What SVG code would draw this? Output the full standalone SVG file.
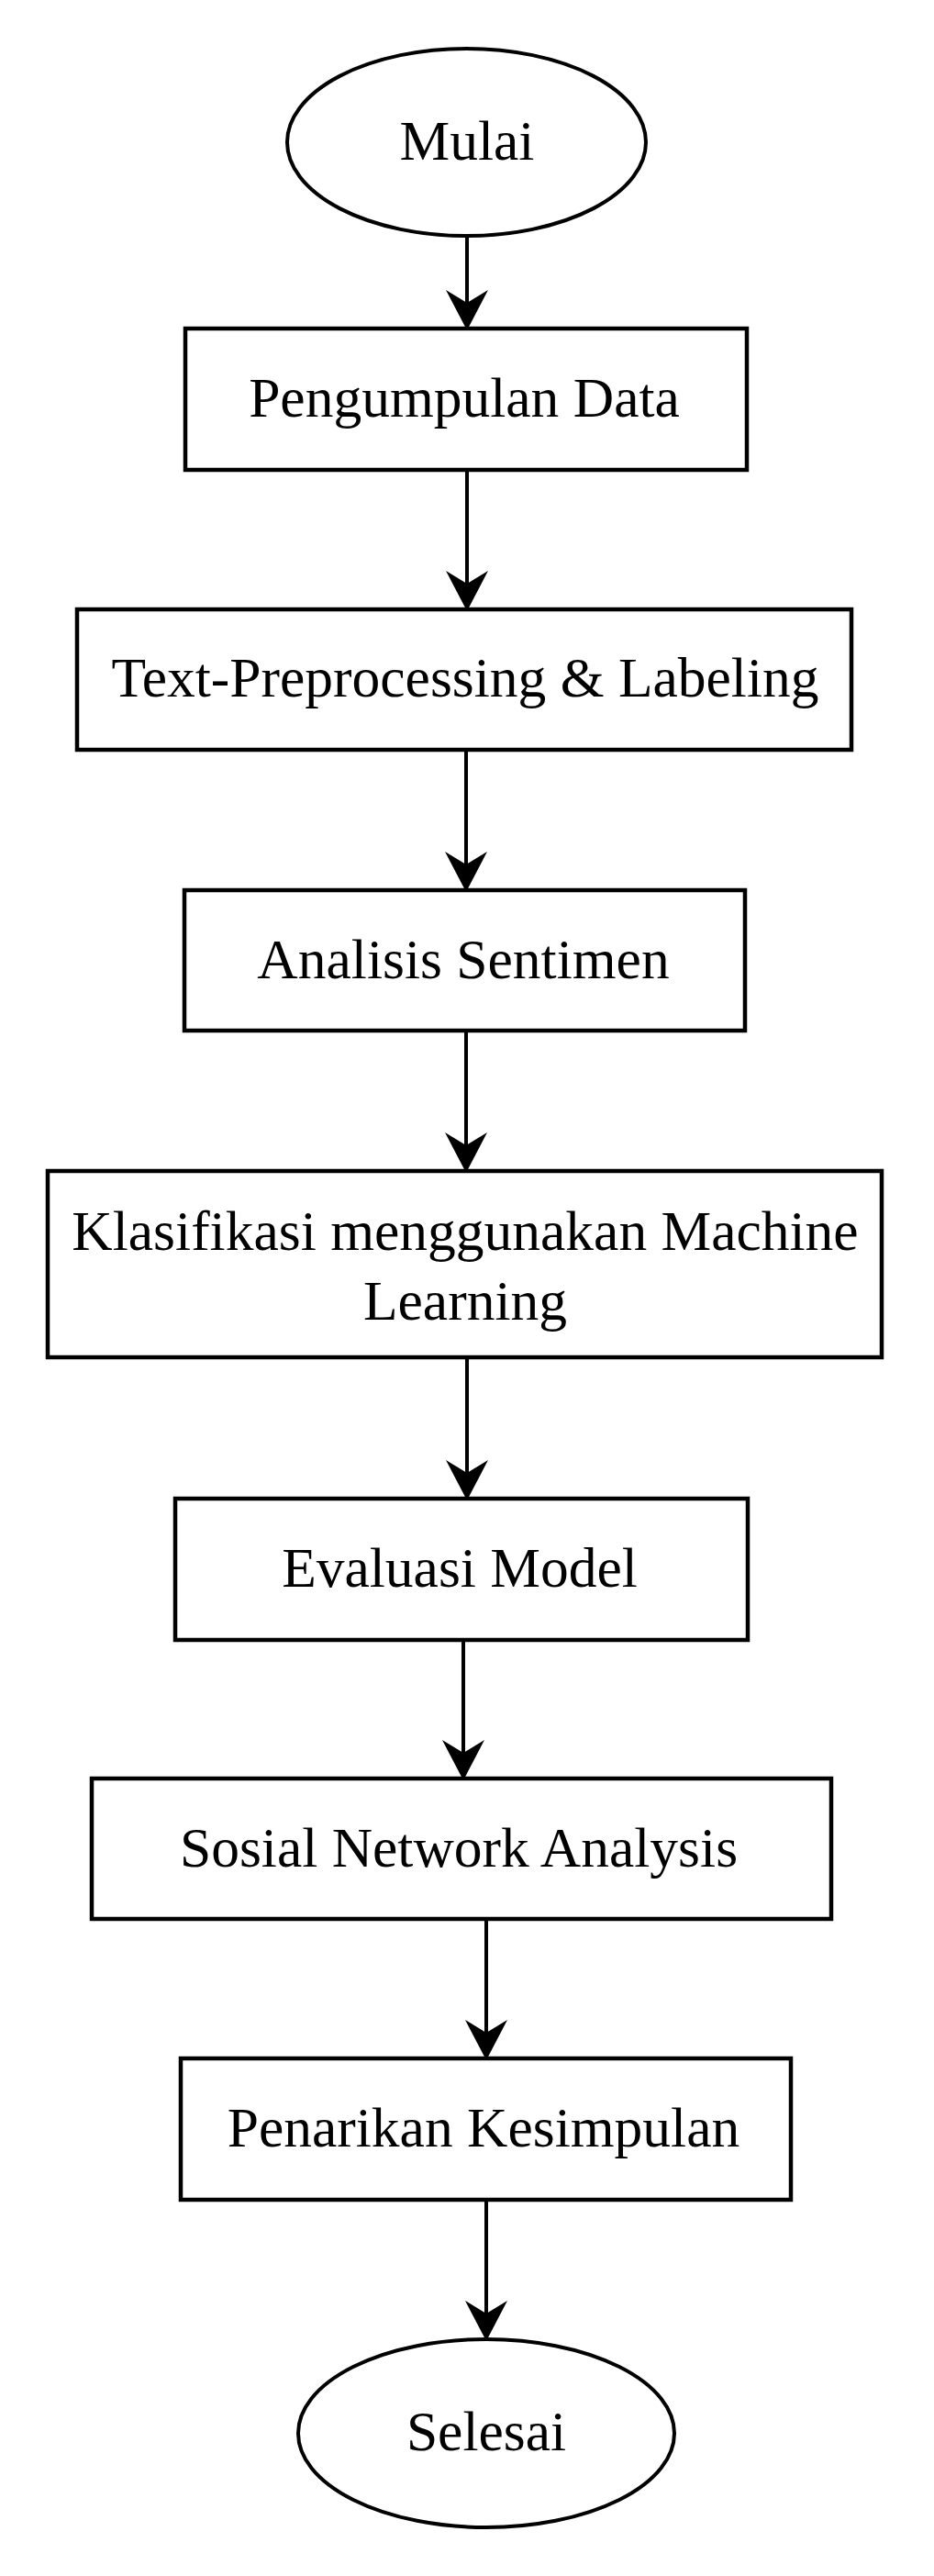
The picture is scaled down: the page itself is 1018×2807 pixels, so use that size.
<svg xmlns="http://www.w3.org/2000/svg" width="1018" height="2807" viewBox="0 0 1018 2807">
  <style>
    .box { fill: #ffffff; stroke: #000000; stroke-width: 4.5; }
    .term { fill: #ffffff; stroke: #000000; stroke-width: 4; }
    .lbl { font-family: "Liberation Serif", "Times New Roman", serif; font-size: 61.5px; fill: #000000; text-anchor: middle; }
    .conn { stroke: #000000; stroke-width: 4; fill: none; marker-end: url(#arrow); }
  </style>
  <defs>
    <marker id="arrow" markerUnits="userSpaceOnUse" viewBox="-16 -25 48 50" markerWidth="48" markerHeight="50" refX="0" refY="0" orient="auto">
      <path d="M30,0 L-14,-23 L0,0 L-14,23 Z" fill="#000000"/>
    </marker>
  </defs>
  <rect x="0" y="0" width="1018" height="2807" fill="#ffffff"/>

  <g id="connectors">
    <line class="conn" x1="509" y1="257" x2="509" y2="330"/>
    <line class="conn" x1="509" y1="512" x2="509" y2="636"/>
    <line class="conn" x1="508" y1="817" x2="508" y2="942"/>
    <line class="conn" x1="508" y1="1123" x2="508" y2="1248"/>
    <line class="conn" x1="509" y1="1479" x2="509" y2="1605"/>
    <line class="conn" x1="505" y1="1787" x2="505" y2="1910"/>
    <line class="conn" x1="530" y1="2091" x2="530" y2="2215"/>
    <line class="conn" x1="530" y1="2397" x2="530" y2="2521"/>
  </g>

  <g id="mulai">
    <ellipse class="term" cx="508.5" cy="155" rx="195.5" ry="102"/>
    <text class="lbl" x="509" y="174">Mulai</text>
  </g>
  <g id="pengumpulan-data">
    <rect class="box" x="202" y="358" width="612" height="154"/>
    <text class="lbl" x="506" y="454">Pengumpulan Data</text>
  </g>
  <g id="text-preprocessing">
    <rect class="box" x="84" y="664" width="844" height="153"/>
    <text class="lbl" x="507" y="759">Text-Preprocessing &amp; Labeling</text>
  </g>
  <g id="analisis-sentimen">
    <rect class="box" x="201" y="970" width="611" height="153"/>
    <text class="lbl" x="505" y="1066">Analisis Sentimen</text>
  </g>
  <g id="klasifikasi">
    <rect class="box" x="52" y="1276" width="909" height="203"/>
    <text class="lbl" x="507" y="1362">Klasifikasi menggunakan Machine</text>
    <text class="lbl" x="507" y="1438">Learning</text>
  </g>
  <g id="evaluasi-model">
    <rect class="box" x="191" y="1633" width="624" height="154"/>
    <text class="lbl" x="501" y="1729">Evaluasi Model</text>
  </g>
  <g id="sosial-network-analysis">
    <rect class="box" x="100" y="1938" width="806" height="153"/>
    <text class="lbl" x="500" y="2034">Sosial Network Analysis</text>
  </g>
  <g id="penarikan-kesimpulan">
    <rect class="box" x="197" y="2243" width="665" height="154"/>
    <text class="lbl" x="527" y="2339">Penarikan Kesimpulan</text>
  </g>
  <g id="selesai">
    <ellipse class="term" cx="530" cy="2651.5" rx="205" ry="102.5"/>
    <text class="lbl" x="530" y="2670">Selesai</text>
  </g>
</svg>
